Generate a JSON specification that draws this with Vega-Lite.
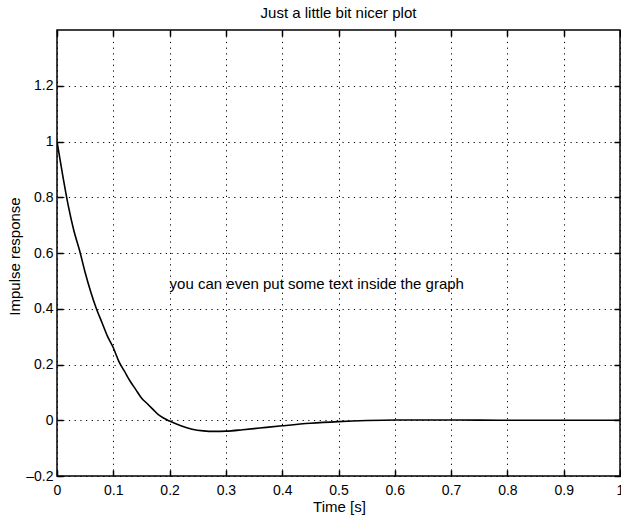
{
  "$schema": "https://vega.github.io/schema/vega-lite/v6.json",
  "width": 563,
  "height": 446,
  "autosize": "none",
  "padding": {"left": 57, "top": 30, "right": 1, "bottom": 39},
  "background": "white",
  "title": {"text": "Just a little bit nicer plot", "fontSize": 15, "fontWeight": "normal", "font": "Liberation Sans", "offset": 8, "color": "black"},
  "config": {
    "view": {"stroke": "black", "strokeWidth": 1.5},
    "axis": {"labelFont": "Liberation Sans", "titleFont": "Liberation Sans", "labelColor": "black", "titleColor": "black", "labelFontSize": 14, "titleFontSize": 15, "titleFontWeight": "normal", "domain": false, "tickColor": "black", "tickWidth": 1.5, "format": "~g"}
  },
  "resolve": {"axis": {"x": "independent", "y": "independent"}},
  "datasets": {
    "curve": [
      {"t": 0, "h": 1.0}, {"t": 0.01, "h": 0.88}, {"t": 0.02, "h": 0.77}, {"t": 0.03, "h": 0.68},
      {"t": 0.04, "h": 0.61}, {"t": 0.05, "h": 0.53}, {"t": 0.06, "h": 0.46}, {"t": 0.07, "h": 0.40},
      {"t": 0.08, "h": 0.35}, {"t": 0.09, "h": 0.30}, {"t": 0.10, "h": 0.26}, {"t": 0.11, "h": 0.21},
      {"t": 0.12, "h": 0.175}, {"t": 0.13, "h": 0.14}, {"t": 0.14, "h": 0.11}, {"t": 0.15, "h": 0.08},
      {"t": 0.16, "h": 0.06}, {"t": 0.17, "h": 0.04}, {"t": 0.18, "h": 0.02}, {"t": 0.19, "h": 0.007},
      {"t": 0.20, "h": -0.003}, {"t": 0.22, "h": -0.02}, {"t": 0.24, "h": -0.032}, {"t": 0.26, "h": -0.038},
      {"t": 0.28, "h": -0.04}, {"t": 0.30, "h": -0.039}, {"t": 0.33, "h": -0.034}, {"t": 0.36, "h": -0.028},
      {"t": 0.40, "h": -0.02}, {"t": 0.45, "h": -0.011}, {"t": 0.50, "h": -0.005}, {"t": 0.55, "h": -0.001},
      {"t": 0.60, "h": 0.001}, {"t": 0.70, "h": 0.001}, {"t": 0.80, "h": 0.0}, {"t": 1.0, "h": 0.0}
    ],
    "note": [{"t": 0.2, "h": 0.49, "label": "you can even put some text inside the graph"}]
  },
  "layer": [
    {
      "data": {"name": "curve"},
      "mark": {"type": "line", "color": "black", "strokeWidth": 1.6, "interpolate": "monotone", "clip": true},
      "encoding": {
        "x": {"field": "t", "type": "quantitative", "scale": {"domain": [0, 1], "nice": false, "zero": false},
          "axis": {"orient": "bottom", "title": "Time [s]", "values": [0, 0.1, 0.2, 0.3, 0.4, 0.5, 0.6, 0.7, 0.8, 0.9, 1], "tickSize": -6, "labelPadding": 13, "titleX": 282, "titleY": 30, "titleBaseline": "middle", "grid": true, "gridColor": "black", "gridDash": [1.2, 4.5], "gridWidth": 1, "labelFlush": false}},
        "y": {"field": "h", "type": "quantitative", "scale": {"domain": [-0.2, 1.4], "nice": false, "zero": false},
          "axis": {"orient": "left", "title": "Impulse response", "values": [-0.2, 0, 0.2, 0.4, 0.6, 0.8, 1, 1.2], "labelExpr": "replace(datum.label, '−', '–')", "tickSize": -6, "labelPadding": 10, "titleX": -43, "titleY": 226, "titleBaseline": "middle", "grid": true, "gridColor": "black", "gridDash": [1.2, 4.5], "gridWidth": 1, "labelFlush": false}}
      }
    },
    {
      "data": {"name": "curve"},
      "mark": {"type": "point", "opacity": 0},
      "encoding": {
        "x": {"field": "t", "type": "quantitative", "axis": {"orient": "top", "title": null, "labels": false, "grid": false, "tickSize": -6, "values": [0, 0.1, 0.2, 0.3, 0.4, 0.5, 0.6, 0.7, 0.8, 0.9, 1]}},
        "y": {"field": "h", "type": "quantitative", "axis": {"orient": "right", "title": null, "labels": false, "grid": false, "tickSize": -6, "values": [-0.2, 0, 0.2, 0.4, 0.6, 0.8, 1, 1.2]}}
      }
    },
    {
      "data": {"name": "note"},
      "mark": {"type": "text", "align": "left", "baseline": "middle", "font": "Liberation Sans", "fontSize": 15, "color": "black"},
      "encoding": {
        "x": {"field": "t", "type": "quantitative", "axis": null},
        "y": {"field": "h", "type": "quantitative", "axis": null},
        "text": {"field": "label"}
      }
    }
  ]
}
